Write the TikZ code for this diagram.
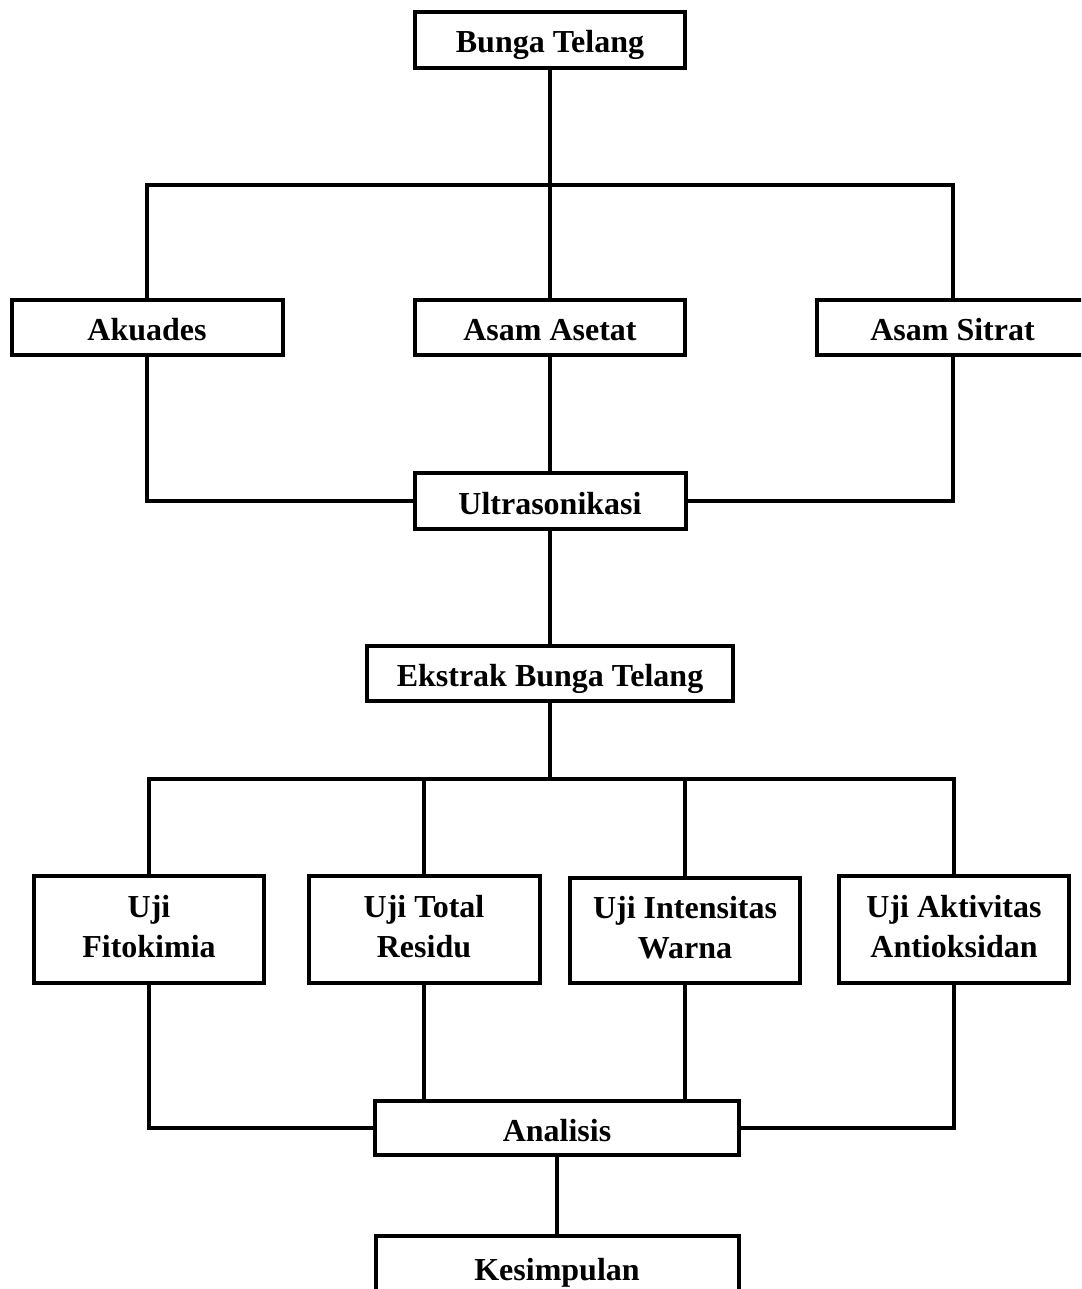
\documentclass[tikz,border=0pt]{standalone}
\usepackage{fontspec}
\setmainfont{Liberation Serif}
\begin{document}
\begin{tikzpicture}[x=1pt,y=-1pt,
  box/.style={draw=black, line width=4pt, fill=white, inner sep=0pt, rectangle,
    font=\fontsize{32}{40}\selectfont\bfseries, text height=26pt, text depth=0pt},
  twobox/.style={box, align=center, text height=55pt, text depth=0pt},
  conn/.style={draw=black, line width=4pt, line join=miter}]
\useasboundingbox (0,0) rectangle (1081,1289);
\clip (0,0) rectangle (1081,1289);
\fill[white] (0,0) rectangle (1081,1289);

\node[box, minimum width=270pt, minimum height=56pt] (bunga) at (550,40) {Bunga Telang};
\node[box, minimum width=271pt, minimum height=55pt] (akuades) at (147,327.5) {Akuades};
\node[box, minimum width=270pt, minimum height=55pt] (asetat) at (550,327.5) {Asam Asetat};
\node[box, minimum width=271pt, minimum height=55pt] (sitrat) at (952.5,327.5) {Asam Sitrat};
\node[box, minimum width=271pt, minimum height=56pt] (ultra) at (550,501) {Ultrasonikasi};
\node[box, minimum width=366pt, minimum height=55pt] (ekstrak) at (550,673.5) {Ekstrak Bunga Telang};

\node[twobox, minimum width=230pt, minimum height=107pt] (fito) at (149,929.5) {Uji\\Fitokimia};
\node[twobox, minimum width=231pt, minimum height=107pt] (residu) at (424,929.5) {Uji Total\\Residu};
\node[twobox, minimum width=230pt, minimum height=105pt] (intens) at (685,930.5) {Uji Intensitas\\Warna};
\node[twobox, minimum width=230pt, minimum height=107pt] (aktiv) at (954,929.5) {Uji Aktivitas\\Antioksidan};

\node[box, minimum width=364pt, minimum height=54pt] (analisis) at (557,1128) {Analisis};
\node[box, minimum width=363pt, minimum height=62pt] (kesimpulan) at (557,1267) {Kesimpulan};

\coordinate (j1) at (550,185);
\coordinate (j2) at (550,779);

\draw[conn] (bunga) -- (asetat);
\draw[conn] (akuades.north) |- (j1) -| (sitrat.north);
\draw[conn] (asetat) -- (ultra);
\draw[conn] (akuades.south) |- (ultra.west);
\draw[conn] (sitrat.south) |- (ultra.east);
\draw[conn] (ultra) -- (ekstrak);
\draw[conn] (ekstrak) -- (j2);
\draw[conn] (fito.north) |- (j2) -| (aktiv.north);
\draw[conn] (residu.north) -- (residu.north |- j2);
\draw[conn] (intens.north) -- (intens.north |- j2);
\draw[conn] (fito.south) |- (analisis.west);
\draw[conn] (aktiv.south) |- (analisis.east);
\draw[conn] (residu.south) -- (residu.south |- analisis.north);
\draw[conn] (intens.south) -- (intens.south |- analisis.north);
\draw[conn] (analisis) -- (kesimpulan);
\end{tikzpicture}
\end{document}
